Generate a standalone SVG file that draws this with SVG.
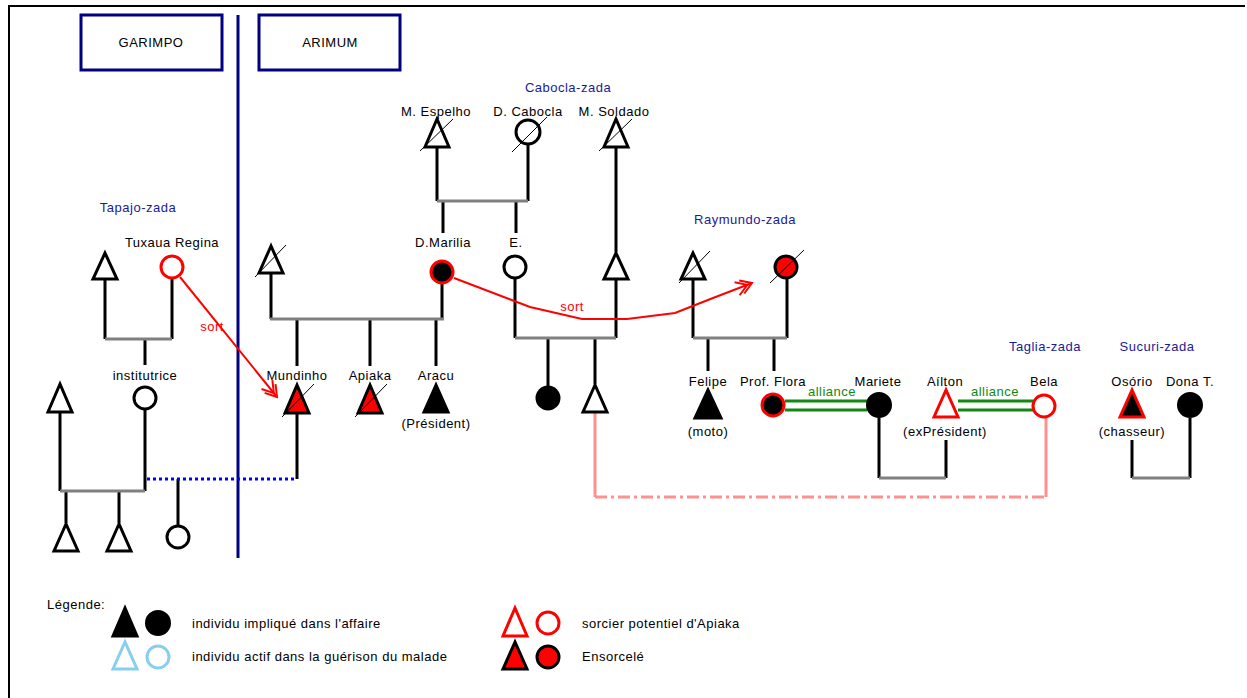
<svg xmlns="http://www.w3.org/2000/svg" width="1247" height="698" viewBox="0 0 1247 698">
<style>
text{font-family:"Liberation Sans",Arial,sans-serif;font-size:13px;letter-spacing:0.5px;fill:#000;text-anchor:middle}
.grp{fill:#1a1a99}
.red{fill:#ff0000}
.grn{fill:#118811}
.st{text-anchor:start}
.box{fill:#fff;stroke:#000080;stroke-width:3}
.ln{stroke:#000;stroke-width:3;fill:none}
.mar{stroke:#808080;stroke-width:3;fill:none}
.m{fill:#fff;stroke:#000;stroke-width:3}
.f{fill:#000;stroke:#000;stroke-width:3}
.ro{fill:#fff;stroke:#ff0000;stroke-width:3}
.rb{fill:#000;stroke:#ff0000;stroke-width:3}
.br{fill:#ff0000;stroke:#000;stroke-width:3}
.lb{fill:#fff;stroke:#87cef0;stroke-width:3}
.sl{stroke:#000;stroke-width:1;fill:none}
.sort{stroke:#ff0000;stroke-width:2;fill:none}
.all{stroke:#118811;stroke-width:3;fill:none}
</style>
<defs>
<marker id="dbl" markerUnits="userSpaceOnUse" viewBox="0 0 20 20" refX="18" refY="10" markerWidth="20" markerHeight="20" orient="auto">
<path d="M7,3 L18,10 L7,17 M2,3 L13,10 L2,17" fill="none" stroke="#ff0000" stroke-width="2"/>
</marker>
</defs>
<rect width="1247" height="698" fill="#fff"/>
<g id="frame">
<path d="M9,698 V6 H1245" stroke="#000" stroke-width="2" fill="none"/>
<line x1="238" y1="15" x2="238" y2="558" stroke="#000080" stroke-width="3"/>
</g>
<g id="garimpo"><rect class="box" x="81" y="15" width="141" height="55"/><text x="151" y="47">GARIMPO</text></g>
<g id="arimum"><rect class="box" x="259" y="15" width="141" height="55"/><text x="330" y="47">ARIMUM</text></g>
<g id="group-labels">
<text class="grp" x="138" y="212">Tapajo-zada</text>
<text class="grp" x="568" y="92">Cabocla-zada</text>
<text class="grp" x="745" y="224">Raymundo-zada</text>
<text class="grp" x="1045" y="351">Taglia-zada</text>
<text class="grp" x="1157" y="351">Sucuri-zada</text>
</g>
<g id="connectors">
<path class="ln" d="M437,147 V201 M528,144 V201 M443,201 V233 M516,201 V233"/>
<path class="mar" d="M437,201 H528"/>
<path class="ln" d="M616,147 V252"/>
<path class="ln" d="M515,279 V338 M616,279 V338 M548,338 V386 M595,338 V384"/>
<path class="mar" d="M515,338 H616"/>
<path class="ln" d="M442,284 V319 M271,273 V319 M297,319 V366 M370,319 V366 M436,319 V366"/>
<path class="mar" d="M270,319 H444"/>
<path class="ln" d="M105,279 V339 M172,279 V339 M145,339 V365"/>
<path class="mar" d="M105,339 H172"/>
<path class="ln" d="M60,412 V491 M145,410 V491 M66,491 V523 M119,491 V523 M178,479 V525 M297,413 V479"/>
<path class="mar" d="M60,491 H145"/>
<path d="M147,479 H295" stroke="#0000ff" stroke-width="3" stroke-dasharray="3,3" fill="none"/>
<path class="ln" d="M693,279 V338 M787,279 V338 M708,338 V371 M774,338 V371"/>
<path class="mar" d="M693,338 H787"/>
<path class="ln" d="M879,418 V478 M946,440 V478"/>
<path class="mar" d="M879,478 H946"/>
<path class="ln" d="M1132,440 V478 M1190,418 V478"/>
<path class="mar" d="M1132,478 H1190"/>
<path class="all" d="M785,401 H867 M785,410 H867 M958,401 H1033 M958,410 H1033"/>
<text class="grn" x="832" y="396">alliance</text>
<text class="grn" x="995" y="396">alliance</text>
<path d="M595,412 V497 M1046,497 V418" stroke="#ff9090" stroke-width="3" fill="none"/>
<path d="M595,497 H1046" stroke="#ff9090" stroke-width="3" stroke-dasharray="12,4,3,4" fill="none"/>
<path class="sort" d="M180,277 L277,397" marker-end="url(#dbl)"/>
<text class="red" x="212" y="331">sort</text>
<path class="sort" d="M454,278 L530,307 L582,319 L627,319 L675,313 L713,298 L752,283" marker-end="url(#dbl)"/>
<text class="red" x="572" y="311">sort</text>
</g>
<g id="m-espelho"><text x="436" y="116">M. Espelho</text><polygon class="m" points="437,119 425,147 449,147"/><line class="sl" x1="420" y1="151" x2="453" y2="119"/></g>
<g id="d-cabocla"><text x="528" y="116">D. Cabocla</text><circle class="m" cx="528" cy="132" r="12"/><line class="sl" x1="512" y1="152" x2="547" y2="117"/></g>
<g id="m-soldado"><text x="614" y="116">M. Soldado</text><polygon class="m" points="616,119 604,147 628,147"/><line class="sl" x1="599" y1="151" x2="632" y2="119"/></g>
<g id="d-marilia"><text x="443" y="247">D.Marilia</text><circle class="rb" cx="442" cy="272" r="11"/></g>
<g id="e"><text x="516" y="247">E.</text><circle class="m" cx="515" cy="267" r="11"/></g>
<g id="soldado-son"><polygon class="m" points="616,253 604,279 628,279"/></g>
<g id="arimum-father"><polygon class="m" points="271,246 259,273 283,273"/><line class="sl" x1="255" y1="277" x2="286" y2="245"/></g>
<g id="tapajo-father"><polygon class="m" points="105,253 93,279 117,279"/></g>
<g id="tuxaua-regina"><text x="172" y="247">Tuxaua Regina</text><circle class="ro" cx="172" cy="267" r="11"/></g>
<g id="institutrice"><text x="145" y="380">institutrice</text><circle class="m" cx="145" cy="398" r="11"/></g>
<g id="garimpo-man"><polygon class="m" points="60,384 48,412 72,412"/></g>
<g id="child-1"><polygon class="m" points="66,524 54,551 78,551"/></g>
<g id="child-2"><polygon class="m" points="119,524 107,551 131,551"/></g>
<g id="child-3"><circle class="m" cx="178" cy="537" r="11"/></g>
<g id="mundinho"><text x="297" y="380">Mundinho</text><polygon class="br" points="297,385 285,413 309,413"/><line class="sl" x1="282" y1="417" x2="314" y2="384"/></g>
<g id="apiaka"><text x="370" y="380">Apiaka</text><polygon class="br" points="370,385 358,413 382,413"/><line class="sl" x1="355" y1="417" x2="387" y2="384"/></g>
<g id="aracu"><text x="436" y="380">Aracu</text><polygon class="f" points="436,385 424,412 448,412"/><text x="436" y="428">(Président)</text></g>
<g id="e-daughter"><circle class="f" cx="548" cy="398" r="11"/></g>
<g id="e-son"><polygon class="m" points="595,385 583,412 607,412"/></g>
<g id="raymundo"><polygon class="m" points="693,253 681,279 705,279"/><line class="sl" x1="679" y1="283" x2="710" y2="251"/></g>
<g id="raymundo-wife"><circle class="br" cx="786" cy="267" r="11"/><line class="sl" x1="770" y1="283" x2="804" y2="250"/></g>
<g id="felipe"><text x="708" y="386">Felipe</text><polygon class="f" points="708,390 695,418 721,418"/><text x="708" y="436">(moto)</text></g>
<g id="prof-flora"><text x="773" y="386">Prof. Flora</text><circle class="rb" cx="773" cy="405" r="11"/></g>
<g id="mariete"><text x="878" y="386">Mariete</text><circle class="f" cx="879" cy="405" r="11.5"/></g>
<g id="ailton"><text x="945" y="386">Aílton</text><polygon class="ro" points="946,390 934,417 958,417"/><text x="945" y="436">(exPrésident)</text></g>
<g id="bela"><text x="1044" y="386">Bela</text><circle class="ro" cx="1044" cy="406" r="11"/></g>
<g id="osorio"><text x="1132" y="386">Osório</text><polygon class="rb" points="1132,390 1120,417 1144,417"/><text x="1132" y="436">(chasseur)</text></g>
<g id="dona-t"><text x="1190" y="386">Dona T.</text><circle class="f" cx="1190" cy="405" r="11.5"/></g>
<g id="legend">
<text class="st" x="47" y="609">Légende:</text>
<polygon class="f" points="125,608 113,636 137,636"/><circle class="f" cx="158" cy="623" r="11.5"/>
<text class="st" x="192" y="628">individu impliqué dans l'affaire</text>
<polygon class="lb" points="125,642 113,669 137,669"/><circle class="lb" cx="158" cy="657" r="11"/>
<text class="st" x="192" y="661">individu actif dans la guérison du malade</text>
<polygon class="ro" points="515,608 503,636 527,636"/><circle class="ro" cx="548" cy="623" r="11"/>
<text class="st" x="582" y="628">sorcier potentiel d'Apiaka</text>
<polygon class="br" points="515,642 503,669 527,669"/><circle class="br" cx="548" cy="657" r="11"/>
<text class="st" x="582" y="661">Ensorcelé</text>
</g>
</svg>
